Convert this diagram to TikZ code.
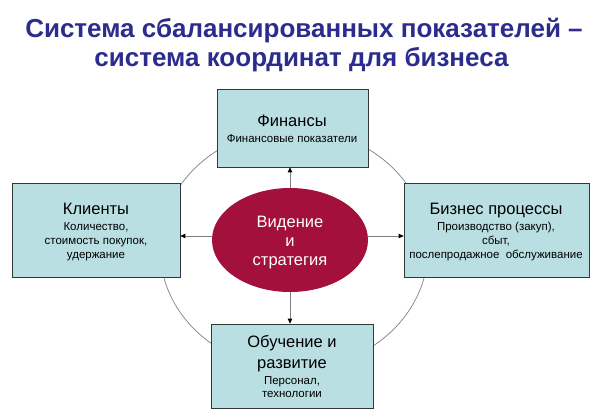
\documentclass[tikz,border=0pt]{standalone}
\usepackage{fontspec}
\setmainfont{Liberation Sans}
\usetikzlibrary{arrows.meta,shapes.geometric}
\definecolor{titleblue}{HTML}{2C2C8E}
\definecolor{boxfill}{HTML}{B9DFE3}
\definecolor{boxline}{HTML}{303838}
\definecolor{ellred}{HTML}{A3103C}
\definecolor{linegray}{HTML}{808080}
\begin{document}
\begin{tikzpicture}[x=1pt,y=-1pt,
  box/.style={draw=boxline, fill=boxfill, line width=0.7pt, inner sep=0pt},
  ttl/.style={font=\fontsize{26}{29}\selectfont\bfseries, text=titleblue, anchor=base, inner sep=0pt},
  hd/.style={font=\fontsize{16.5}{18}\selectfont, anchor=base, inner sep=0pt},
  sub/.style={font=\fontsize{11.5}{14}\selectfont, anchor=base, inner sep=0pt},
  vt/.style={font=\fontsize{16.5}{20}\selectfont, text=white, anchor=base, inner sep=0pt},
  conn/.style={draw=linegray, line width=0.8pt, -{Triangle[length=5pt,width=4.5pt,color=black]}},
  ring/.style={draw=linegray, line width=0.7pt}
]
\useasboundingbox (0,0) rectangle (600,416);
\fill[white] (0,0) rectangle (600,416);

\node[ttl] (t1) at (304,37) {Система сбалансированных показателей –};
\node[ttl] (t2) at (301.5,66) {система координат для бизнеса};

\coordinate (rc) at (294,249);
\draw[ring] (rc) ellipse [x radius=134, y radius=120];

% boxes
\node[box, minimum width=151pt, minimum height=78pt] (fin) at (292.5,128) {};
\node[box, minimum width=168pt, minimum height=94pt] (cli) at (96,230) {};
\node[box, minimum width=185pt, minimum height=94pt] (biz) at (496.5,230) {};
\node[box, minimum width=162pt, minimum height=84pt] (edu) at (292,366) {};
\node[ellipse, fill=ellred, minimum width=156pt, minimum height=104pt, inner sep=0pt] (vis) at (290,240) {};

% texts
\node[hd]  (fin1) at (292,126.5) {Финансы};
\node[sub] (fin2) at (292,142.5) {Финансовые показатели};

\node[hd]  (cli1) at (96,214) {Клиенты};
\node[sub] (cli2) at (96,230) {Количество,};
\node[sub] (cli3) at (96,244) {стоимость покупок,};
\node[sub] (cli4) at (96,258) {удержание};

\node[hd]  (biz1) at (496,214) {Бизнес процессы};
\node[sub] (biz2) at (496,230.5) {Производство (закуп),};
\node[sub] (biz3) at (496,244) {сбыт,};
\node[sub] (biz4) at (496,258) {послепродажное\ \ обслуживание};

\node[hd]  (edu1) at (292,347.5) {Обучение и};
\node[hd]  (edu2) at (292,368) {развитие};
\node[sub] (edu3) at (292,384) {Персонал,};
\node[sub] (edu4) at (292,397.5) {технологии};

\node[vt] (vis1) at (290,227) {Видение};
\node[vt] (vis2) at (290,246.5) {и};
\node[vt] (vis3) at (290,265.5) {стратегия};

\draw[conn] (vis.north) -- (vis.north |- fin.south);
\draw[conn] (vis.south) -- (vis.south |- edu.north);
\draw[conn] ([yshift=4pt]vis.west) -- ([yshift=4pt]vis.west -| cli.east);
\draw[conn] ([yshift=4pt]vis.east) -- ([yshift=4pt]vis.east -| biz.west);
\end{tikzpicture}
\end{document}
